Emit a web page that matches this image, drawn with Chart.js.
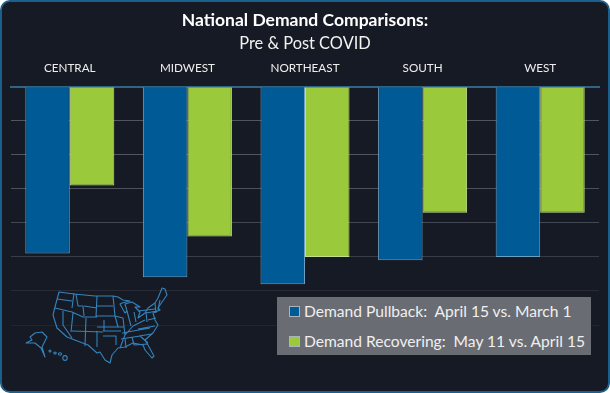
<!DOCTYPE html>
<html lang="en">
<head>
  <meta charset="UTF-8">
  <title>National Demand Comparisons</title>
  <script src="https://cdn.jsdelivr.net/npm/chart.js"></script>
  <style>
    html, body { margin: 0; padding: 0; background: #fff; }
    #panel {
      position: absolute; left: 0; top: 0; width: 606px; height: 389px;
      background: #161a24; border: 2px solid #1b5f8c; border-radius: 10px;
    }
    #wrap { position: absolute; left: 0; top: 0; width: 610px; height: 393px; }
    #map { position: absolute; left: 0; top: 0; pointer-events: none; filter: blur(0.3px); }
    #legend {
      position: absolute; left: 277px; top: 297px; width: 314px; height: 58px;
      background: #6a6c73; color: #f0f0f0;
      font: 15.6px Lato, sans-serif; white-space: pre;
    }
    .row { position: absolute; left: 12px; display: flex; align-items: center; height: 20px; }
    .swatch { width: 9px; height: 9px; border: 1px solid #aab4bc; margin-right: 4px; }
  </style>
</head>
<body>
  <div id="panel"></div>
  <div id="wrap"><canvas id="chart" width="610" height="393"></canvas></div>

  <!-- outline of the US, decoration only -->
  <svg id="map" width="610" height="393" fill="none" stroke="#3484bd" stroke-width="1.1" stroke-linejoin="round">
    <path d="M59 292 L74 294 L95 296 L113 296 L118 297 L123 300 L130 301 L122 303 L120 304 L125 313 L127 311 L125 304 L132 302 L140 307 L135 307 L140 312 L138 318 L145 313 L148 308 L155 303 L158 298 L162 288 L165 289 L167 295 L162 302 L158 308 L160 310 L153 313 L155 320 L158 325 L153 333 L145 340 L148 345 L154 356 L152 358 L145 350 L143 345 L133 343 L125 347 L118 348 L112 355 L110 363 L105 360 L100 352 L97 353 L88 345 L80 342 L67 337 L57 328 L53 315 L55 307 Z"/>
    <path d="M57 299 L72 301 M74 293 L72 308 M55 308 L72 312 L83 317 L97 317 M76 294 L78 306 L83 306 L84 316 M97 296 L96 317 M84 306 L97 308 M97 306 L113 306 M96 316 L115 316 M97 327 L124 327 M63 311 L63 325 L72 338 M73 313 L71 332 M86 318 L85 346 M72 331 L103 332 M97 331 L97 347 M104 320 L104 331 M103 331 L121 331 M103 336 L116 336 L116 345 M113 296 L115 316 L118 327 M115 316 L123 318 L125 335 L120 348 M125 335 L133 326 L145 320 M127 311 L131 326 M134 312 L136 322 M146 312 L147 322 M138 311 L155 309 M122 333 L150 328 M121 339 L140 336 M132 337 L134 345 M125 338 L126 348 M134 345 L148 344 M139 336 L152 334 M140 336 L148 343 M138 329 L155 326 M146 313 L157 311 M155 303 L156 313 M160 300 L158 310 M148 320 L156 318"/>
    <path d="M26 343 L32 340 L30 337 L35 333 L42 332 L47 337 L42 347 L45 357 L41 348 L35 343 Z"/>
    <ellipse cx="50" cy="351" rx="1" ry="1"/>
    <ellipse cx="55" cy="353" rx="1.2" ry="1"/>
    <ellipse cx="60" cy="354" rx="1.6" ry="1.2"/>
    <ellipse cx="65" cy="358" rx="2.2" ry="2.4"/>
  </svg>

  <div id="legend"></div>

  <script>
    const categories = ['CENTRAL', 'MIDWEST', 'NORTHEAST', 'SOUTH', 'WEST'];
    const pullback = [-49, -56, -58, -51, -50];
    const recovering = [-29, -44, -50, -37, -37];
    const seriesNames = ['Demand Pullback:  April 15 vs. March 1', 'Demand Recovering:  May 11 vs. April 15'];
    const seriesColors = ['#005a96', '#9aca3c'];
    const seriesBorders = ['#6d9fc2', '#c5e08c'];

    // Gridlines fade out toward the bottom of the panel
    const gridAlpha = { '-10': .26, '-20': .26, '-30': .24, '-40': .2, '-50': .15, '-60': .08, '-70': .05 };

    new Chart(document.getElementById('chart'), {
      type: 'bar',
      data: {
        labels: categories,
        datasets: [pullback, recovering].map((values, i) => ({
          label: seriesNames[i],
          data: values,
          backgroundColor: seriesColors[i],
          borderColor: seriesBorders[i],
          borderWidth: 1,
          categoryPercentage: 0.757,
          barPercentage: 1
        }))
      },
      options: {
        responsive: false,
        animation: false,
        layout: { padding: { left: 11, right: 11, top: 8, bottom: 68 } },
        plugins: {
          legend: { display: false },
          tooltip: { enabled: false },
          title: {
            display: true,
            text: 'National Demand Comparisons:',
            color: '#ffffff',
            font: { family: 'Lato', size: 17.5, weight: 'bold' },
            padding: { top: 2, bottom: 3 }
          },
          subtitle: {
            display: true,
            text: 'Pre & Post COVID',
            color: '#f2f2f2',
            font: { family: 'Lato', size: 16.4, weight: 'normal' },
            padding: { bottom: 5 }
          }
        },
        scales: {
          x: {
            position: 'top',
            grid: { display: false },
            border: { color: '#2f6485', width: 2 },
            ticks: { color: '#eeeeee', font: { family: 'Lato', size: 11.7 }, padding: 3, maxRotation: 0 }
          },
          y: {
            min: -70,
            max: 0,
            ticks: { display: false, stepSize: 10 },
            border: { display: false },
            grid: {
              drawTicks: false,
              color: ctx => 'rgba(255,255,255,' + (gridAlpha[ctx.tick.value] || 0) + ')'
            }
          }
        }
      }
    });

    const legend = document.getElementById('legend');
    seriesNames.forEach((name, i) => {
      const row = document.createElement('div');
      row.className = 'row';
      row.style.top = (i === 0 ? 4 : 34) + 'px';
      const swatch = document.createElement('span');
      swatch.className = 'swatch';
      swatch.style.background = seriesColors[i];
      row.appendChild(swatch);
      row.appendChild(document.createTextNode(name));
      legend.appendChild(row);
    });
  </script>
</body>
</html>
